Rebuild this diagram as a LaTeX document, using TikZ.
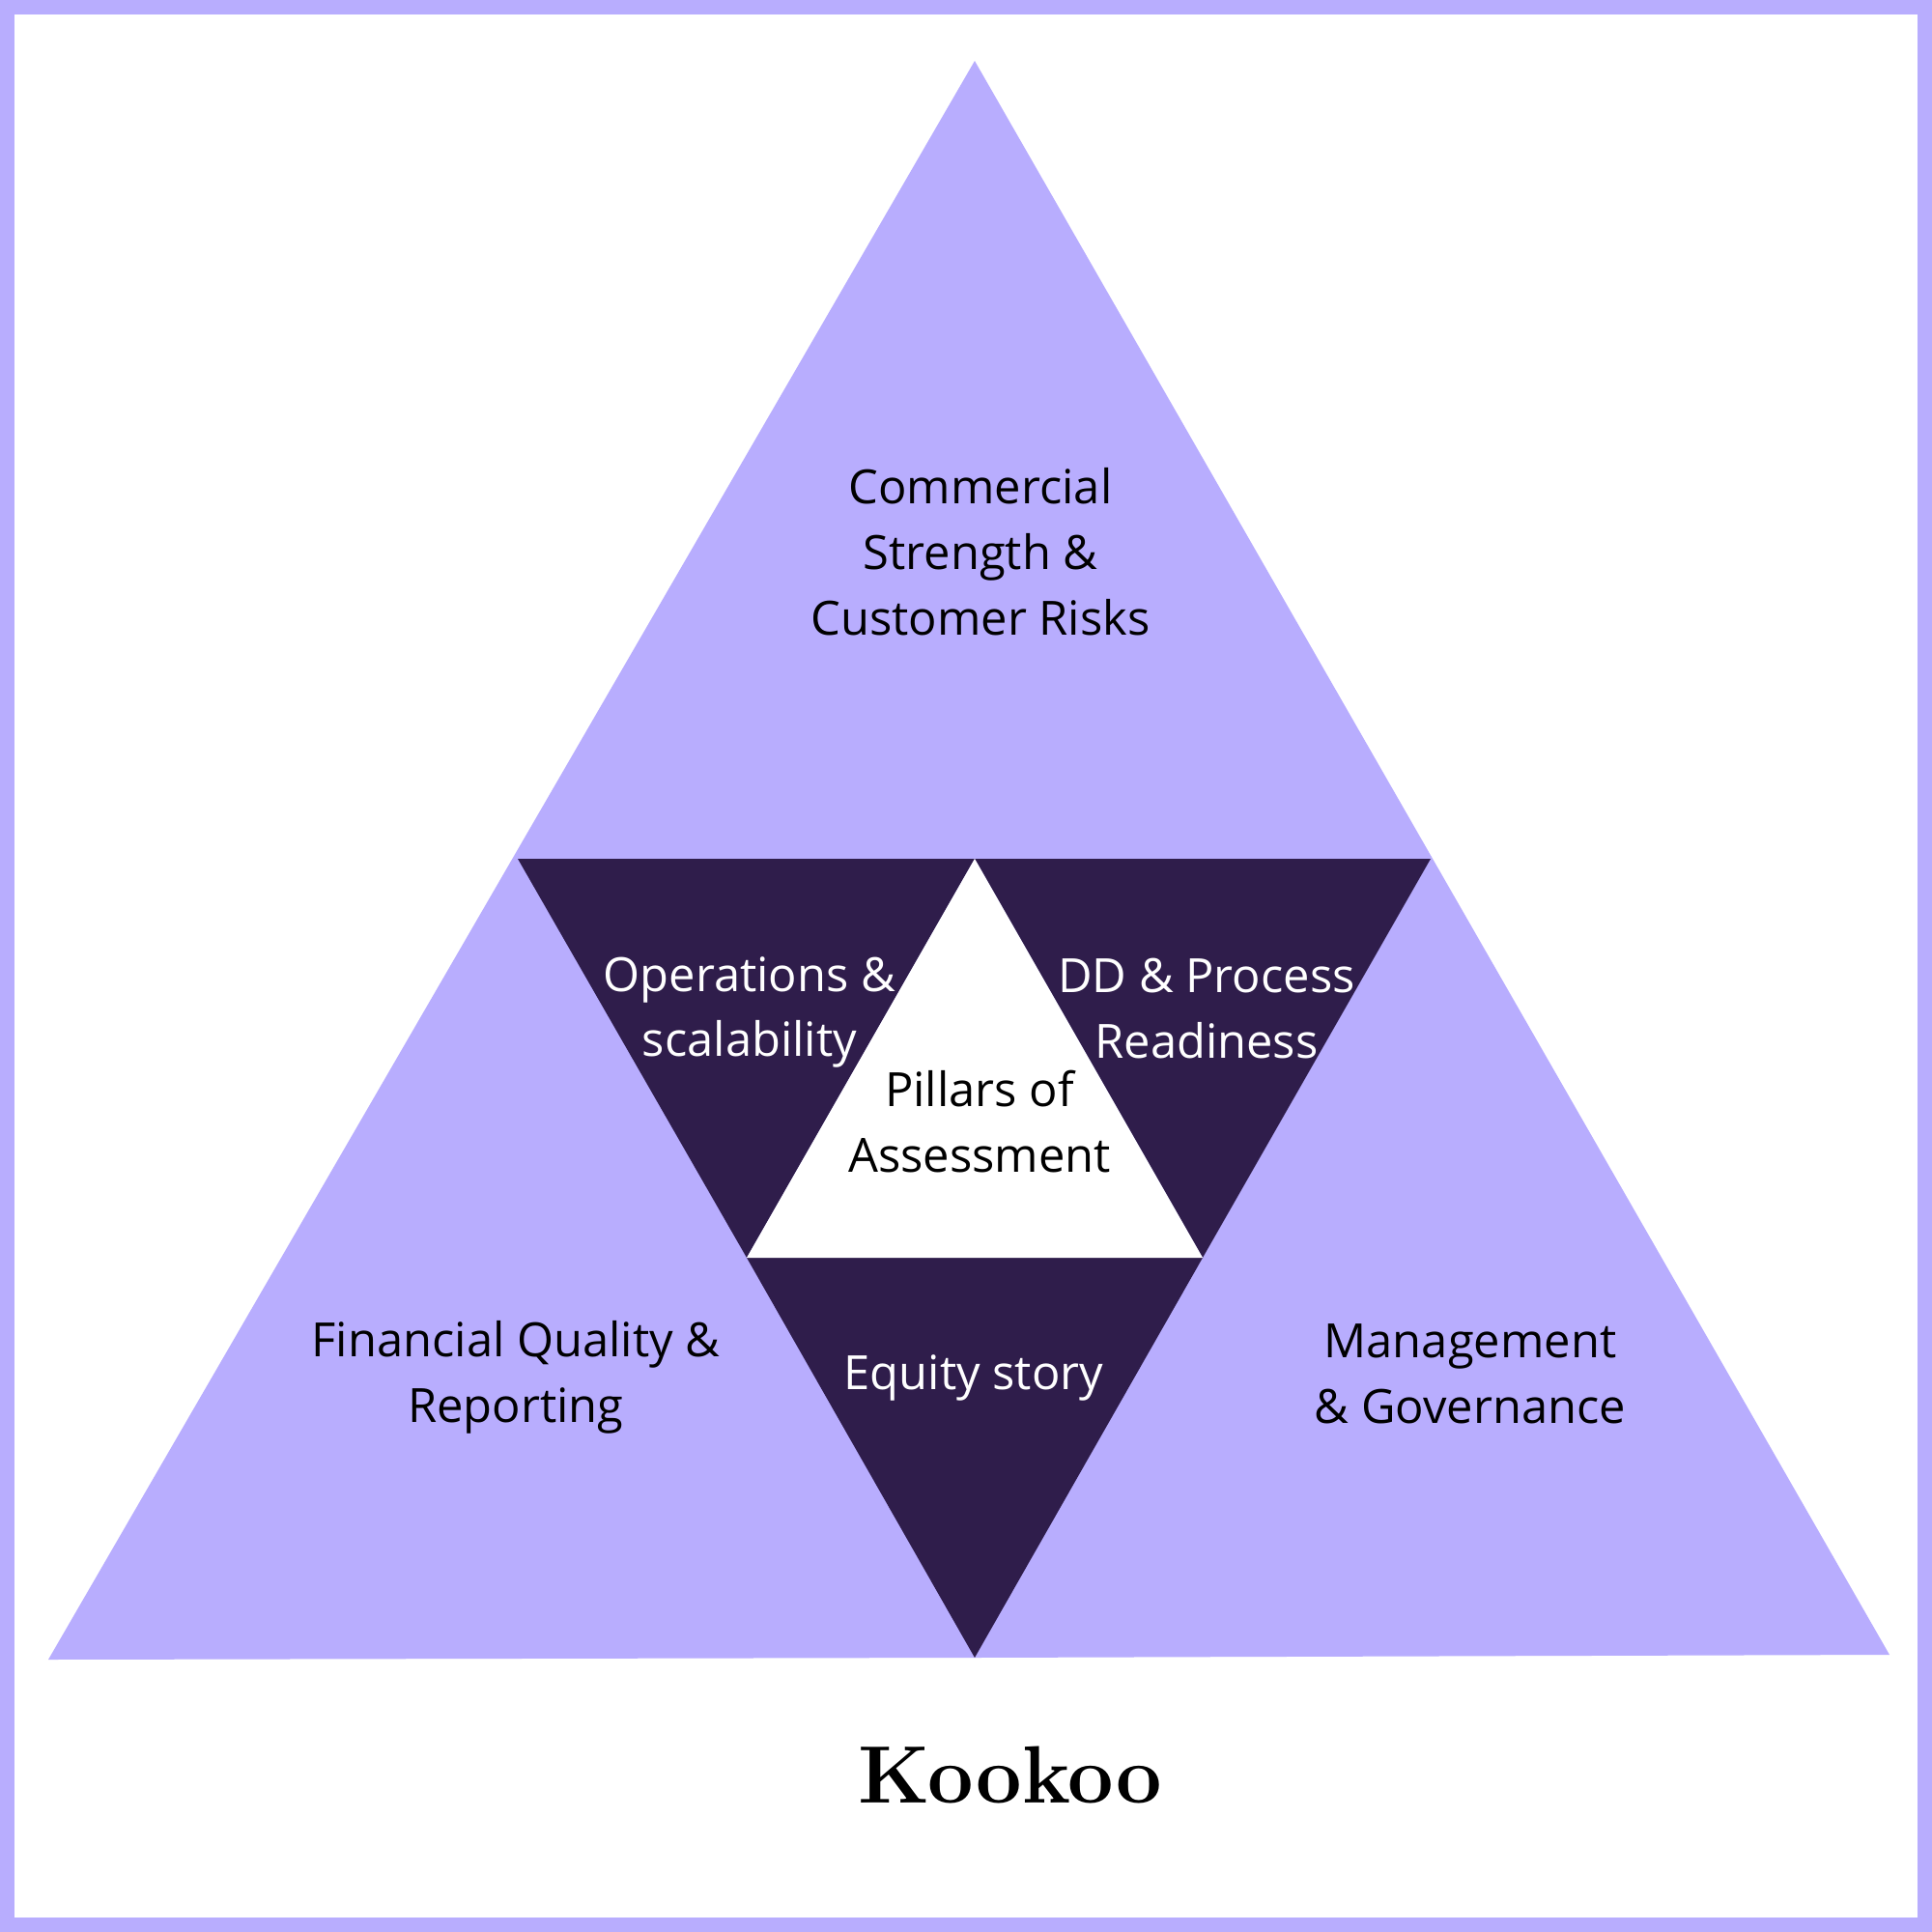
\documentclass[tikz,border=0pt]{standalone}
\usepackage{fontspec}
\usepackage{xcolor}
\newfontfamily\pillarfont{Open Sans}
\definecolor{kookoolilac}{RGB}{184, 173, 254}
\definecolor{kookooplum}{RGB}{47, 29, 75}

\tikzset{
  pillartext/.style={align=center, text=black, font=\pillarfont\fontsize{13.9}{19.3}\selectfont},
  innertext/.style={pillartext, text=white}
}

\begin{document}
\begin{tikzpicture}[x=1cm, y=1cm]
\useasboundingbox (0,0) rectangle (20,-20);
% frame
\fill[kookoolilac] (0,0) rectangle (20,-20);
\fill[white] (0.15,-0.15) rectangle (19.85,-19.85);

% corners of the big triangle and the inner star
\coordinate (apex) at (10.09,-0.63);
\coordinate (baseL) at (0.50,-17.18);
\coordinate (baseR) at (19.56,-17.13);
\coordinate (midL) at (5.36,-8.89);
\coordinate (midR) at (14.81,-8.89);
\coordinate (midT) at (10.09,-8.89);
\coordinate (baseM) at (10.09,-17.16);
\coordinate (innerL) at (7.73,-13.02);
\coordinate (innerR) at (12.45,-13.02);

\fill[kookoolilac] (apex) -- (baseR) -- (baseM) -- (baseL) -- cycle;
\fill[kookooplum] (midL) -- (midT) -- (innerL) -- cycle;
\fill[kookooplum] (midT) -- (midR) -- (innerR) -- cycle;
\fill[kookooplum] (innerL) -- (innerR) -- (baseM) -- cycle;
\fill[white] (midT) -- (innerR) -- (innerL) -- cycle;

\node[pillartext] (commercial) at (10.15,-5.71) {Commercial\\Strength \&\\Customer Risks};
\node[innertext] (operations) at (7.76,-10.48) {Operations \&\\scalability};
\node[innertext] (readiness) at (12.49,-10.44) {DD \& Process\\Readiness};
\node[pillartext] (pillars) at (10.14,-11.61) {Pillars of\\Assessment};
\node[innertext] (equity) at (10.08,-14.26) {Equity story};
\node[pillartext] (financial) at (5.34,-14.26) {Financial Quality \&\\Reporting};
\node[pillartext] (management) at (15.22,-14.22) {Management\\\& Governance};

\node[font=\fontsize{24}{29}\selectfont\bfseries] (brand) at (10.46,-18.37) {Kookoo};
\end{tikzpicture}
\end{document}
